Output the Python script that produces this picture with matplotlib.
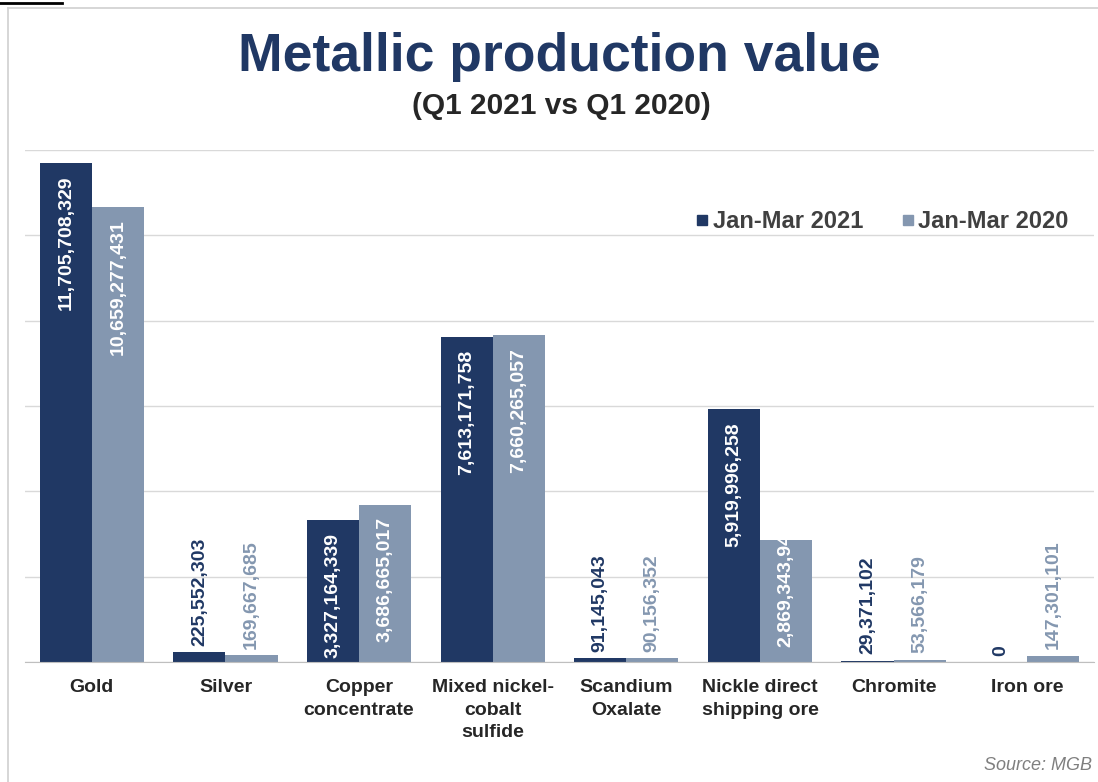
import numpy as np
import matplotlib
matplotlib.use("Agg")
import matplotlib.pyplot as plt
from matplotlib.lines import Line2D

plt.rcParams['font.family'] = ['Liberation Sans', 'DejaVu Sans']

# data
categories = ["Gold", "Silver", "Copper\nconcentrate", "Mixed nickel-\ncobalt\nsulfide",
              "Scandium\nOxalate", "Nickle direct\nshipping ore", "Chromite", "Iron ore"]
q1_2021 = [11705708329, 225552303, 3327164339, 7613171758,
           91145043, 5919996258, 29371102, 0]
q1_2020 = [10659277431, 169667685, 3686665017, 7660265057,
           90156352, 2869343940, 53566179, 147301101]
series_names = ["Jan-Mar 2021", "Jan-Mar 2020"]

dark = "#203864"
light = "#8497b0"
grid_c = "#d9d9d9"

fig = plt.figure(figsize=(10.98, 7.82), dpi=100)
ax = fig.add_axes([25 / 1098, 1 - 662 / 782, 1069 / 1098, 512 / 782])

x = np.arange(len(categories))
w = 0.39
bars1 = ax.bar(x - w / 2, q1_2021, w, color=dark, zorder=3)
bars2 = ax.bar(x + w / 2, q1_2020, w, color=light, zorder=3)

ax.set_xlim(-0.5, len(categories) - 0.5)
ax.set_ylim(0, 12e9)
ax.set_yticks(np.arange(0, 12e9 + 1, 2e9))
ax.yaxis.grid(True, color=grid_c, linewidth=1, zorder=0)
ax.set_yticklabels([])
ax.tick_params(axis='y', length=0)
for s in ["top", "right", "left"]:
    ax.spines[s].set_visible(False)
ax.spines["bottom"].set_color("#bfbfbf")
ax.spines["bottom"].set_zorder(4)

ax.set_xticks(x)
ax.set_xticklabels(categories, fontsize=14, fontweight="bold", color="#262626",
                   linespacing=1.45)
ax.tick_params(axis='x', length=0, pad=12)


def label_bars(bars, values, out_color):
    for b, v in zip(bars, values):
        cx = b.get_x() + b.get_width() / 2
        txt = f"{v:,}"
        if v >= 3e9:
            ax.annotate(txt, (cx, v), xytext=(0, -9), textcoords="offset points",
                        rotation=90, ha="center", va="top", color="white",
                        fontsize=14, fontweight="bold", zorder=5)
        elif v >= 1e9:
            # label longer than the bar: starts at the base and is cut at the top
            t = ax.annotate(txt, (cx, 0), xytext=(0, 11), textcoords="offset points",
                            rotation=90, ha="center", va="bottom", color="white",
                            fontsize=14, fontweight="bold", zorder=5)
            t.set_clip_path(b)
        else:
            ax.annotate(txt, (cx, v), xytext=(0, 4.5), textcoords="offset points",
                        rotation=90, ha="center", va="bottom", color=out_color,
                        fontsize=14, fontweight="bold", zorder=5)


label_bars(bars1, q1_2021, dark)
label_bars(bars2, q1_2020, light)

handles = [Line2D([], [], marker="s", linestyle="", color=dark, markersize=7.5),
           Line2D([], [], marker="s", linestyle="", color=light, markersize=7.5)]
leg = fig.legend(handles, series_names, loc="center right",
                 bbox_to_anchor=(1090 / 1098, 1 - 222 / 782), ncol=2, frameon=False,
                 handlelength=0.6, handletextpad=0.15, columnspacing=1.6,
                 prop={"size": 17, "weight": "bold"})
for t in leg.get_texts():
    t.set_color("#404040")

fig.text(0.509, 1 - 57 / 782, "Metallic production value", ha="center", va="center",
         fontsize=38.5, fontweight="bold", color=dark)
fig.text(0.511, 1 - 106 / 782, "(Q1 2021 vs Q1 2020)", ha="center", va="center",
         fontsize=21.5, fontweight="bold", color="#262626")
fig.text(984 / 1098, 1 - 765 / 782, "Source: MGB", ha="left", va="center",
         fontsize=13, style="italic", color="#7f7f7f")

# card border of the screenshot
fig.add_artist(Line2D([8 / 1098, 8 / 1098], [0, 1 - 8 / 782], color="#d0d0d0", linewidth=1.2))
fig.add_artist(Line2D([8 / 1098, 1], [1 - 8 / 782, 1 - 8 / 782], color="#d0d0d0", linewidth=1.2))
fig.add_artist(Line2D([0, 62 / 1098], [1 - 3 / 782, 1 - 3 / 782], color="black", linewidth=2))

fig.savefig("out.png", dpi=100, facecolor="white")
